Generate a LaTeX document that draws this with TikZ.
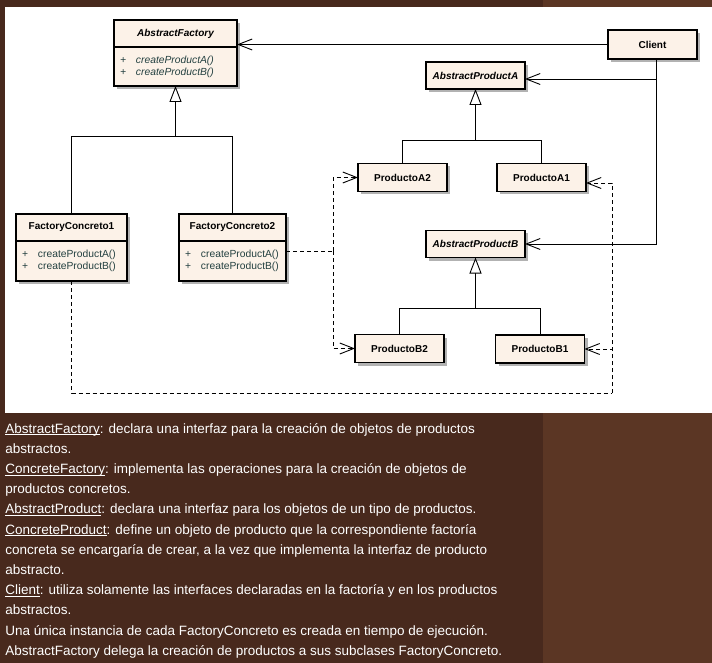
\documentclass[tikz,border=0pt]{standalone}
\usepackage{fontspec}
\setmainfont{Liberation Sans}
\usetikzlibrary{arrows.meta,shadows,positioning}
\definecolor{cream}{RGB}{252,242,232}
\definecolor{mtxt}{RGB}{35,64,64}
\definecolor{bgdark}{RGB}{72,41,29}
\definecolor{bglight}{RGB}{91,54,36}
\newcommand{\mth}[1]{\makebox[16pt][l]{+}#1}
\newcommand{\ulw}[1]{\setbox0\hbox{#1}\rlap{\rule[-1.8pt]{\wd0}{0.7pt}}#1}

\begin{document}
\begin{tikzpicture}
  [x=1pt,y=-1pt,line width=0.9pt,
   box/.style={draw,line width=1.1pt,fill=cream,inner sep=0pt,outer sep=0pt,
     drop shadow={shadow xshift=3pt,shadow yshift=-3pt,fill=black!30,opacity=1}},
   hdr/.style={box,minimum height=27pt,font=\fontsize{10}{12}\selectfont\bfseries},
   abs/.style={font=\fontsize{10}{12}\selectfont\bfseries\itshape},
   body/.style={box,minimum height=40pt,align=left,inner xsep=6pt,
     font=\fontsize{10.3}{12}\selectfont\color{mtxt}},
   cls/.style={hdr,minimum width=89pt,minimum height=28pt},
   gen/.style={-{Triangle[length=16pt,width=12pt,fill=white]}},
   dep/.style={-{Straight Barb[length=14pt,width=11pt]}},
   dsh/.style={dash pattern=on 4pt off 3pt},
   txtline/.style={anchor=base west,inner sep=0pt,text=white,
     font=\fontsize{13.5}{16}\selectfont}]

  % background
  \fill[bglight] (0,0) rectangle (712,663);
  \fill[bgdark] (0,0) rectangle (543,663);
  \fill[white] (5,7) rectangle (712,413);

  % factories
  \node (afh)[hdr,abs,minimum width=123pt] at (175.5,33.5) {AbstractFactory};
  \node (afm)[body,text width=111pt,minimum height=39pt,below=0pt of afh,
    font=\fontsize{10.3}{12}\selectfont\itshape\color{mtxt}]
    {\mth{createProductA()}\\\mth{createProductB()}};
  \node (fc1h)[hdr,minimum width=111pt] at (71.5,227.5) {FactoryConcreto1};
  \node (fc1m)[body,text width=99pt,below=0pt of fc1h]
    {\mth{createProductA()}\\\mth{createProductB()}};
  \node (fc2h)[hdr,minimum width=107pt] at (232.5,227.5) {FactoryConcreto2};
  \node (fc2m)[body,text width=95pt,below=0pt of fc2h]
    {\mth{createProductA()}\\\mth{createProductB()}};

  % client and products
  \node (cl)[cls,minimum height=29pt] at (652.5,44.5) {Client};
  \node (apa)[cls,abs,minimum width=99pt,minimum height=27pt] at (475.5,75.5) {AbstractProductA};
  \node (pa2)[cls] at (402.5,177.5) {ProductoA2};
  \node (pa1)[cls] at (541.5,177.5) {ProductoA1};
  \node (apb)[cls,abs,minimum width=99pt,minimum height=27pt] at (475.5,244) {AbstractProductB};
  \node (pb2)[cls] at (399.5,348.5) {ProductoB2};
  \node (pb1)[cls] at (540,349) {ProductoB1};

  % junctions
  \coordinate (jf) at (175.5,136);
  \coordinate (ja) at (475.5,140);
  \coordinate (jb) at (475.5,308);
  \coordinate (cb) at ([xshift=3.5pt]cl.south);
  \coordinate (dv) at (333,251);
  \coordinate (dh) at (612,393);

  % inheritance
  \foreach \from/\to in {fc1h/jf,fc2h/jf,pa2/ja,pa1/ja,pb2/jb,pb1/jb}
    \draw (\from) |- (\to);
  \foreach \from/\to in {jf/afm,ja/apa,jb/apb}
    \draw[gen] (\from) -- (\to);

  % client uses
  \draw[dep] (cl) -- (cl -| afh.east);
  \draw[dep] ([yshift=-3.5pt]apa.east -| cb) -- ([yshift=-3.5pt]apa.east);
  \draw[dep] (cb) |- (apb);

  % creates
  \draw[dsh] ([yshift=10pt]fc2m.east) -- (dv);
  \foreach \to in {pa2,pb2}
    \draw[dep,dsh] (dv) |- (\to);
  \draw[dsh] (fc1m) |- (dh);
  \draw[dep,dsh] (dh) |- ([yshift=-5.5pt]pa1.east);
  \draw[dep,dsh] (dh) |- (pb1);

  % notes
  \foreach \s [count=\i from 0] in {
    {\ulw{AbstractFactory}: declara una interfaz para la creación de objetos de productos},
    {abstractos.},
    {\ulw{ConcreteFactory}: implementa las operaciones para la creación de objetos de},
    {productos concretos.},
    {\ulw{AbstractProduct}: declara una interfaz para los objetos de un tipo de productos.},
    {\ulw{ConcreteProduct}: define un objeto de producto que la correspondiente factoría},
    {concreta se encargaría de crear, a la vez que implementa la interfaz de producto},
    {abstracto.},
    {\ulw{Client}: utiliza solamente las interfaces declaradas en la factoría y en los productos},
    {abstractos.},
    {Una única instancia de cada FactoryConcreto es creada en tiempo de ejecución.},
    {AbstractFactory delega la creación de productos a sus subclases FactoryConcreto.}}
    \node (t\i)[txtline] at (5,{433+20.2*\i}) {\s};

\end{tikzpicture}
\end{document}
